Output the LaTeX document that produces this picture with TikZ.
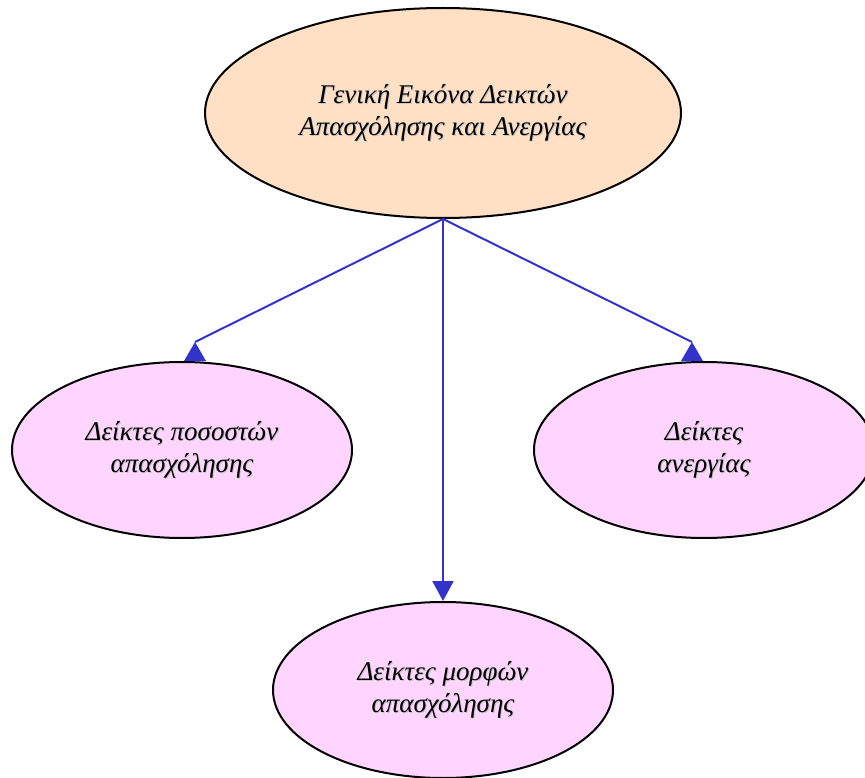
\documentclass[tikz,border=0pt]{standalone}
\usepackage{fontspec}
\setmainfont{Liberation Serif}
\usepackage{tikz}
\usetikzlibrary{arrows.meta,positioning,calc,shapes.geometric}
\definecolor{peach}{RGB}{255,224,196}
\definecolor{lilac}{RGB}{255,212,255}
\definecolor{linkblue}{RGB}{51,51,204}
\newcommand{\shd}[1]{\leavevmode\rlap{\kern1pt\raisebox{-1pt}{\textcolor{black!22}{#1}}}#1}

\begin{document}
\begin{tikzpicture}[x=1pt, y=-1pt,
    oval/.style={ellipse, draw, line width=2pt, inner sep=0pt, minimum width=340pt, minimum height=176pt, fill=lilac, font=\fontsize{27}{32}\selectfont\itshape, align=center},
    link/.style={draw=linkblue, line width=2pt},
    tipc/.style={fill=linkblue},
]
    \useasboundingbox (0,0) rectangle (865,778);
    \node[oval, fill=peach, minimum width=476pt, minimum height=210pt] (top) at (443,113) {\shd{Γενική Εικόνα Δεικτών}\\\shd{Απασχόλησης και Ανεργίας}};
    \node[oval] (rate) at (182,450) {\shd{Δείκτες ποσοστών}\\\shd{απασχόλησης}};
    \node[oval] (form) at (443,690) {\shd{Δείκτες μορφών}\\\shd{απασχόλησης}};
    \node[oval] (unemp) at (704,450) {\shd{Δείκτες}\\\shd{ανεργίας}};
    \coordinate (ltip) at ($(rate.north)+(13,-19)$);
    \coordinate (rtip) at ($(unemp.north)+(-12,-19)$);
    \draw[link] (top.south) -- (ltip);
    \fill[tipc] (ltip) -- ++(-11,19) -- ++(22,0) -- cycle;
    \draw[link] (top.south) -- (rtip);
    \fill[tipc] (rtip) -- ++(-11,19) -- ++(22,0) -- cycle;
    \draw[link, -{Triangle[width=21pt, length=20pt]}] (top.south) -- (form.north);
\end{tikzpicture}
\end{document}
